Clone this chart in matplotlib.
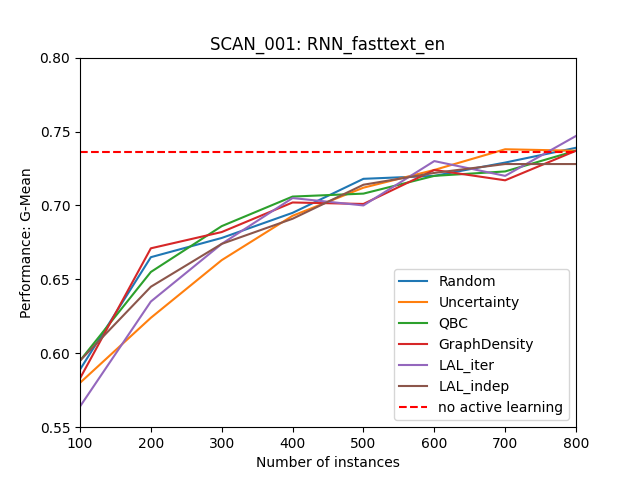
import matplotlib
matplotlib.use("Agg")
import matplotlib.pyplot as plt

instances = [100, 200, 300, 400, 500, 600, 700, 800]
random_ = [0.589, 0.665, 0.678, 0.695, 0.718, 0.720, 0.729, 0.739]
uncertainty = [0.580, 0.624, 0.663, 0.693, 0.712, 0.724, 0.738, 0.737]
qbc = [0.595, 0.655, 0.686, 0.706, 0.708, 0.720, 0.723, 0.737]
graph_density = [0.583, 0.671, 0.682, 0.702, 0.701, 0.724, 0.717, 0.737]
lal_iter = [0.564, 0.635, 0.674, 0.705, 0.700, 0.730, 0.720, 0.747]
lal_indep = [0.595, 0.645, 0.674, 0.691, 0.714, 0.722, 0.728, 0.728]
no_al = 0.736

fig, ax = plt.subplots(figsize=(6.4, 4.8), dpi=100)
ax.plot(instances, random_, label="Random")
ax.plot(instances, uncertainty, label="Uncertainty")
ax.plot(instances, qbc, label="QBC")
ax.plot(instances, graph_density, label="GraphDensity")
ax.plot(instances, lal_iter, label="LAL_iter")
ax.plot(instances, lal_indep, label="LAL_indep")
ax.axhline(no_al, color="red", linestyle="--", label="no active learning")

ax.set_xlim(100, 800)
ax.set_ylim(0.55, 0.80)
ax.set_xlabel("Number of instances")
ax.set_ylabel("Performance: G-Mean")
ax.set_title("SCAN_001: RNN_fasttext_en")
ax.legend(loc="lower right")

plt.savefig("out.png")
